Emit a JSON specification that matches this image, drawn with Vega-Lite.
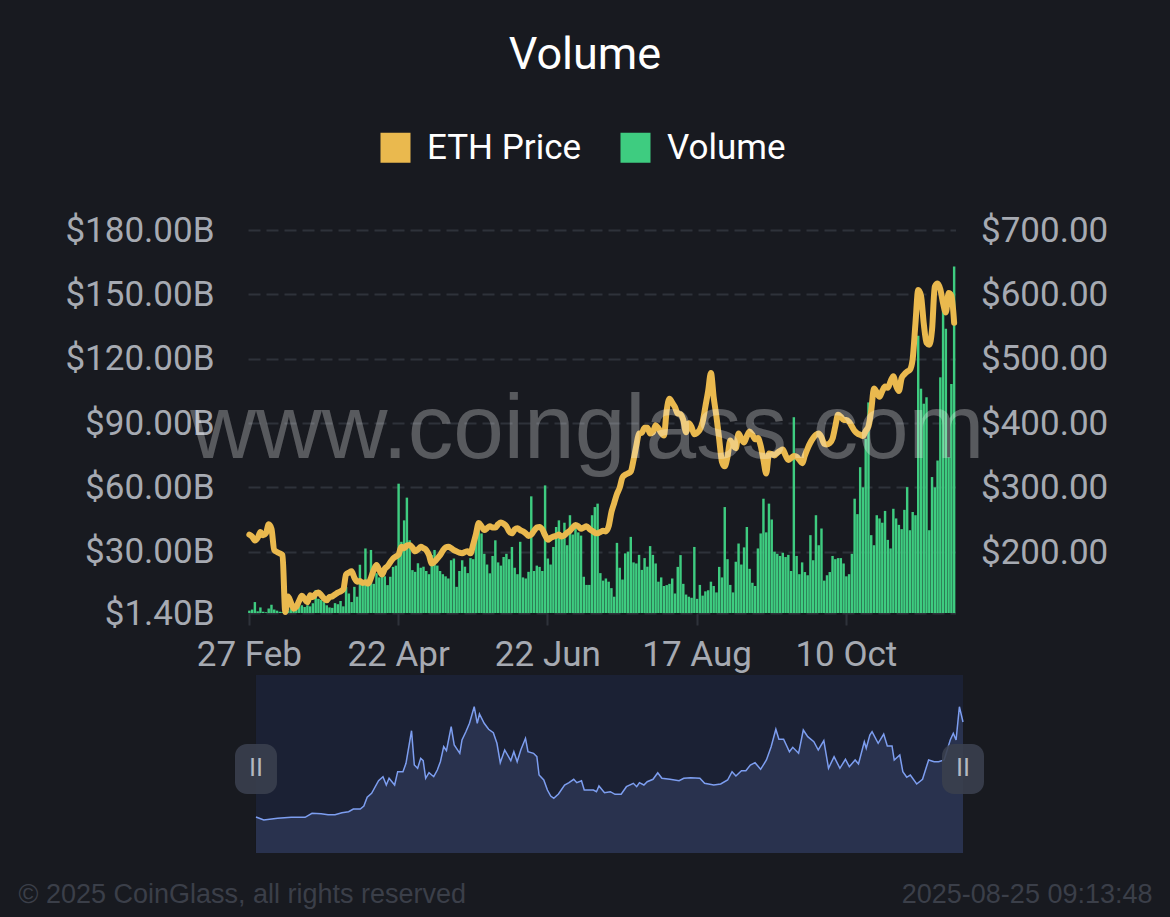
{
"$schema": "https://vega.github.io/schema/vega-lite/v6.json",
"background": "#181a20",
"autosize": {"type": "none"},
"padding": {"left": 248, "top": 230, "right": 922, "bottom": 687},
"title": {"text": "Volume", "font": "Roboto", "fontSize": 45, "fontWeight": "normal", "color": "#ffffff", "anchor": "middle", "offset": 52},
"spacing": 62,
"bounds": "flush",
"config": {"view": {"stroke": null}, "axis": {"labelFont": "Roboto", "labelFontSize": 35, "labelColor": "#a6aab2"}},
"datasets": {
"main": [
{"d":"27 Feb","v":2.5,"p":227},{"d":"28 Feb","v":3.0,"p":224},{"d":"29 Feb","v":6.5,"p":218},{"d":"2 Mar","v":2.2,"p":222},{"d":"3 Mar","v":4.0,"p":231},{"d":"4 Mar","v":2.0,"p":226},{"d":"5 Mar","v":1.8,"p":229},{"d":"6 Mar","v":3.5,"p":243},{"d":"7 Mar","v":5.2,"p":236},{"d":"8 Mar","v":3.0,"p":203},
{"d":"9 Mar","v":2.5,"p":200},{"d":"10 Mar","v":2.0,"p":198},{"d":"11 Mar","v":1.9,"p":195},{"d":"12 Mar","v":1.6,"p":107},{"d":"13 Mar","v":2.5,"p":131},{"d":"14 Mar","v":3.5,"p":122},{"d":"15 Mar","v":2.8,"p":112},{"d":"16 Mar","v":3.0,"p":115},{"d":"17 Mar","v":4.5,"p":124},{"d":"18 Mar","v":5.0,"p":132},
{"d":"19 Mar","v":4.2,"p":127},{"d":"20 Mar","v":5.0,"p":122},{"d":"21 Mar","v":4.5,"p":133},{"d":"22 Mar","v":6.0,"p":130},{"d":"23 Mar","v":12.1,"p":135},{"d":"24 Mar","v":8.0,"p":137},{"d":"25 Mar","v":7.5,"p":133},{"d":"26 Mar","v":6.5,"p":128},{"d":"27 Mar","v":5.0,"p":125},{"d":"28 Mar","v":4.0,"p":130},
{"d":"29 Mar","v":3.8,"p":131},{"d":"30 Mar","v":6.0,"p":134},{"d":"31 Mar","v":5.5,"p":137},{"d":"1 Apr","v":7.0,"p":139},{"d":"2 Apr","v":4.5,"p":142},{"d":"3 Apr","v":13.6,"p":165},{"d":"4 Apr","v":10.5,"p":168},{"d":"5 Apr","v":6.5,"p":170},{"d":"6 Apr","v":13.6,"p":160},{"d":"7 Apr","v":9.0,"p":154},
{"d":"8 Apr","v":23.9,"p":155},{"d":"9 Apr","v":14.5,"p":152},{"d":"10 Apr","v":31.5,"p":153},{"d":"11 Apr","v":14.0,"p":151},{"d":"12 Apr","v":30.8,"p":160},{"d":"13 Apr","v":15.0,"p":172},{"d":"14 Apr","v":19.9,"p":180},{"d":"15 Apr","v":18.0,"p":172},{"d":"16 Apr","v":20.6,"p":165},{"d":"17 Apr","v":18.5,"p":174},
{"d":"18 Apr","v":14.4,"p":178},{"d":"19 Apr","v":18.3,"p":184},{"d":"20 Apr","v":22.9,"p":190},{"d":"21 Apr","v":23.5,"p":193},{"d":"22 Apr","v":61.7,"p":196},{"d":"23 Apr","v":34.6,"p":208},{"d":"24 Apr","v":44.6,"p":206},{"d":"25 Apr","v":55.2,"p":210},{"d":"26 Apr","v":35.3,"p":211},{"d":"27 Apr","v":21.4,"p":207},
{"d":"28 Apr","v":20.6,"p":201},{"d":"29 Apr","v":24.6,"p":204},{"d":"30 Apr","v":22.5,"p":208},{"d":"1 May","v":23.0,"p":206},{"d":"2 May","v":21.0,"p":203},{"d":"3 May","v":19.5,"p":195},{"d":"4 May","v":28.4,"p":182},{"d":"5 May","v":30.8,"p":185},{"d":"6 May","v":23.5,"p":190},{"d":"7 May","v":21.0,"p":195},
{"d":"8 May","v":19.5,"p":202},{"d":"9 May","v":18.5,"p":207},{"d":"17 May","v":17.5,"p":208},{"d":"18 May","v":26.0,"p":206},{"d":"19 May","v":26.8,"p":203},{"d":"20 May","v":13.6,"p":201},{"d":"21 May","v":21.0,"p":199},{"d":"22 May","v":26.0,"p":198},{"d":"23 May","v":23.0,"p":200},{"d":"24 May","v":20.0,"p":201},
{"d":"25 May","v":27.0,"p":198},{"d":"26 May","v":26.5,"p":212},{"d":"27 May","v":36.9,"p":228},{"d":"28 May","v":41.5,"p":245},{"d":"29 May","v":38.5,"p":240},{"d":"30 May","v":29.0,"p":234},{"d":"31 May","v":24.0,"p":237},{"d":"1 Jun","v":19.9,"p":240},{"d":"2 Jun","v":28.0,"p":238},{"d":"3 Jun","v":35.3,"p":238},
{"d":"4 Jun","v":25.0,"p":243},{"d":"5 Jun","v":23.5,"p":246},{"d":"6 Jun","v":27.5,"p":244},{"d":"7 Jun","v":29.0,"p":240},{"d":"8 Jun","v":26.5,"p":232},{"d":"9 Jun","v":32.2,"p":229},{"d":"10 Jun","v":22.5,"p":235},{"d":"11 Jun","v":19.5,"p":237},{"d":"12 Jun","v":34.6,"p":234},{"d":"13 Jun","v":18.0,"p":232},
{"d":"14 Jun","v":17.5,"p":229},{"d":"15 Jun","v":20.6,"p":225},{"d":"16 Jun","v":55.8,"p":227},{"d":"17 Jun","v":21.0,"p":233},{"d":"18 Jun","v":23.5,"p":238},{"d":"19 Jun","v":22.9,"p":239},{"d":"20 Jun","v":21.0,"p":235},{"d":"21 Jun","v":60.9,"p":226},{"d":"22 Jun","v":26.8,"p":219},{"d":"23 Jun","v":24.0,"p":222},
{"d":"24 Jun","v":32.2,"p":224},{"d":"25 Jun","v":41.5,"p":225},{"d":"26 Jun","v":44.6,"p":227},{"d":"27 Jun","v":37.0,"p":224},{"d":"28 Jun","v":43.5,"p":226},{"d":"29 Jun","v":33.0,"p":230},{"d":"30 Jun","v":47.0,"p":233},{"d":"1 Jul","v":38.0,"p":238},{"d":"2 Jul","v":42.0,"p":242},{"d":"3 Jul","v":39.0,"p":240},
{"d":"4 Jul","v":37.5,"p":236},{"d":"5 Jul","v":18.3,"p":238},{"d":"6 Jul","v":14.5,"p":240},{"d":"7 Jul","v":14.5,"p":236},{"d":"8 Jul","v":47.0,"p":233},{"d":"9 Jul","v":50.8,"p":230},{"d":"10 Jul","v":52.4,"p":229},{"d":"11 Jul","v":20.0,"p":231},{"d":"12 Jul","v":16.5,"p":233},{"d":"13 Jul","v":17.5,"p":232},
{"d":"14 Jul","v":16.0,"p":240},{"d":"17 Jul","v":13.0,"p":262},{"d":"18 Jul","v":9.0,"p":276},{"d":"19 Jul","v":34.1,"p":290},{"d":"20 Jul","v":22.5,"p":300},{"d":"21 Jul","v":17.0,"p":316},{"d":"22 Jul","v":29.2,"p":320},{"d":"23 Jul","v":30.0,"p":322},{"d":"24 Jul","v":36.9,"p":325},{"d":"25 Jul","v":25.0,"p":343},
{"d":"26 Jul","v":24.5,"p":365},{"d":"27 Jul","v":28.5,"p":384},{"d":"28 Jul","v":21.5,"p":385},{"d":"29 Jul","v":27.0,"p":393},{"d":"30 Jul","v":23.0,"p":393},{"d":"31 Jul","v":32.6,"p":384},{"d":"1 Aug","v":28.5,"p":386},{"d":"2 Aug","v":24.5,"p":397},{"d":"3 Aug","v":16.0,"p":392},{"d":"4 Aug","v":18.0,"p":385},
{"d":"5 Aug","v":14.0,"p":381},{"d":"6 Aug","v":14.4,"p":420},{"d":"7 Aug","v":15.0,"p":438},{"d":"8 Aug","v":17.5,"p":432},{"d":"9 Aug","v":10.5,"p":425},{"d":"10 Aug","v":22.9,"p":415},{"d":"11 Aug","v":28.4,"p":414},{"d":"12 Aug","v":15.0,"p":405},{"d":"13 Aug","v":10.0,"p":386},{"d":"14 Aug","v":9.0,"p":400},
{"d":"15 Aug","v":8.5,"p":394},{"d":"16 Aug","v":32.2,"p":383},{"d":"17 Aug","v":8.0,"p":385},{"d":"18 Aug","v":14.5,"p":390},{"d":"19 Aug","v":9.5,"p":402},{"d":"20 Aug","v":11.5,"p":426},{"d":"21 Aug","v":12.0,"p":450},{"d":"22 Aug","v":16.0,"p":478},{"d":"23 Aug","v":14.0,"p":440},{"d":"24 Aug","v":11.0,"p":410},
{"d":"25 Aug","v":22.9,"p":375},{"d":"26 Aug","v":18.0,"p":340},{"d":"27 Aug","v":50.8,"p":333},{"d":"28 Aug","v":26.5,"p":348},{"d":"29 Aug","v":14.5,"p":373},{"d":"30 Aug","v":11.0,"p":366},{"d":"31 Aug","v":25.3,"p":361},{"d":"1 Sep","v":33.8,"p":384},{"d":"2 Sep","v":24.0,"p":376},{"d":"3 Sep","v":32.0,"p":370},
{"d":"4 Sep","v":41.5,"p":380},{"d":"5 Sep","v":22.0,"p":387},{"d":"6 Sep","v":15.5,"p":382},{"d":"7 Sep","v":14.0,"p":375},{"d":"8 Sep","v":31.5,"p":377},{"d":"9 Sep","v":38.5,"p":365},{"d":"10 Sep","v":54.7,"p":343},{"d":"11 Sep","v":39.0,"p":322},{"d":"12 Sep","v":52.4,"p":353},{"d":"13 Sep","v":45.0,"p":352},
{"d":"14 Sep","v":30.0,"p":350},{"d":"15 Sep","v":29.0,"p":354},{"d":"16 Sep","v":28.0,"p":357},{"d":"17 Sep","v":29.5,"p":359},{"d":"18 Sep","v":27.5,"p":350},{"d":"19 Sep","v":28.5,"p":343},{"d":"20 Sep","v":21.0,"p":346},{"d":"21 Sep","v":92.7,"p":349},{"d":"22 Sep","v":28.0,"p":348},{"d":"23 Sep","v":19.5,"p":343},
{"d":"24 Sep","v":25.0,"p":338},{"d":"25 Sep","v":20.5,"p":350},{"d":"26 Sep","v":19.0,"p":361},{"d":"27 Sep","v":37.7,"p":370},{"d":"28 Sep","v":26.0,"p":377},{"d":"29 Sep","v":47.0,"p":382},{"d":"30 Sep","v":33.0,"p":384},{"d":"1 Oct","v":40.8,"p":378},{"d":"2 Oct","v":16.5,"p":368},{"d":"3 Oct","v":19.0,"p":367},
{"d":"4 Oct","v":20.5,"p":369},{"d":"5 Oct","v":28.0,"p":376},{"d":"6 Oct","v":26.5,"p":395},{"d":"7 Oct","v":27.0,"p":413},{"d":"8 Oct","v":27.0,"p":410},{"d":"9 Oct","v":24.5,"p":405},{"d":"10 Oct","v":18.5,"p":405},{"d":"11 Oct","v":19.5,"p":402},{"d":"12 Oct","v":29.0,"p":395},{"d":"13 Oct","v":54.7,"p":388},
{"d":"14 Oct","v":47.5,"p":384},{"d":"15 Oct","v":69.4,"p":382},{"d":"16 Oct","v":60.0,"p":380},{"d":"17 Oct","v":82.6,"p":388},{"d":"18 Oct","v":99.6,"p":395},{"d":"19 Oct","v":37.7,"p":420},{"d":"20 Oct","v":33.0,"p":454},{"d":"21 Oct","v":47.0,"p":448},{"d":"22 Oct","v":45.5,"p":441},{"d":"23 Oct","v":43.5,"p":450},
{"d":"24 Oct","v":49.0,"p":457},{"d":"25 Oct","v":35.5,"p":455},{"d":"26 Oct","v":31.5,"p":465},{"d":"27 Oct","v":50.0,"p":473},{"d":"28 Oct","v":45.5,"p":458},{"d":"29 Oct","v":42.5,"p":450},{"d":"30 Oct","v":40.5,"p":470},{"d":"31 Oct","v":49.5,"p":476},{"d":"1 Nov","v":60.1,"p":480},{"d":"2 Nov","v":40.0,"p":483},
{"d":"3 Nov","v":48.5,"p":500},{"d":"4 Nov","v":47.0,"p":555},{"d":"5 Nov","v":130.7,"p":607},{"d":"6 Nov","v":106.0,"p":598},{"d":"7 Nov","v":99.0,"p":555},{"d":"8 Nov","v":102.0,"p":525},{"d":"9 Nov","v":40.0,"p":522},{"d":"10 Nov","v":64.8,"p":545},{"d":"11 Nov","v":60.0,"p":612},{"d":"12 Nov","v":72.5,"p":617},
{"d":"13 Nov","v":111.3,"p":608},{"d":"14 Nov","v":143.0,"p":586},{"d":"15 Nov","v":134.0,"p":572},{"d":"16 Nov","v":74.0,"p":602},{"d":"17 Nov","v":108.2,"p":598},{"d":"18 Nov","v":163.0,"p":556}
],
"nav": [
{"t":0,"n":36},{"t":2.8,"n":33},{"t":7.8,"n":34.7},{"t":12.7,"n":35.7},{"t":17.7,"n":35.7},{"t":20.2,"n":39.7},{"t":23.5,"n":39.3},{"t":26,"n":38.3},{"t":28.5,"n":38.3},{"t":31,"n":40.3},{"t":33.4,"n":41.3},{"t":35.1,"n":44},{"t":37.6,"n":44},{"t":38.9,"n":47},{"t":40.1,"n":55.7},{"t":41.7,"n":59.7},{"t":44.2,"n":72.3},{"t":45.8,"n":76.3},{"t":47,"n":68},{"t":48,"n":74.7},{"t":50,"n":68},{"t":51.1,"n":81.3},{"t":53,"n":81.3},{"t":54.1,"n":89.7},{"t":56.1,"n":122.3},{"t":57.1,"n":88},{"t":58.3,"n":84.7},{"t":59.4,"n":94.7},{"t":60.3,"n":92.3},{"t":61.2,"n":74.7},{"t":62.4,"n":80.3},{"t":64.1,"n":76.3},{"t":65.4,"n":83},{"t":66.5,"n":91.3},{"t":67.7,"n":106.3},{"t":68.7,"n":102.3},{"t":70.4,"n":126.3},{"t":71.5,"n":108},{"t":73.5,"n":99.7},{"t":74.3,"n":113},{"t":75.7,"n":121.3},{"t":77,"n":129.7},{"t":78.7,"n":146.3},{"t":79.8,"n":129.7},{"t":80.6,"n":139},{"t":82.3,"n":129.7},{"t":83.9,"n":123.7},{"t":85.6,"n":120.3},{"t":86.9,"n":109.7},{"t":88.1,"n":90.3},{"t":89.7,"n":103},{"t":91.9,"n":92.3},{"t":93,"n":101.3},{"t":94.2,"n":91.3},{"t":95.5,"n":103},{"t":97.2,"n":114.7},{"t":98.1,"n":101.3},{"t":100.1,"n":99.7},{"t":101.3,"n":96.3},{"t":102.1,"n":78},{"t":103.8,"n":73},{"t":105.1,"n":63},{"t":106.3,"n":57},{"t":107.4,"n":54.7},{"t":109.1,"n":59},{"t":111.3,"n":68},{"t":112.9,"n":70.3},{"t":114.6,"n":73.7},{"t":115.7,"n":70.3},{"t":117.4,"n":72.3},{"t":118.4,"n":63},{"t":121.7,"n":63},{"t":122.8,"n":61.3},{"t":123.7,"n":67},{"t":125.7,"n":60.3},{"t":127.8,"n":61.3},{"t":129.5,"n":58.7},{"t":131.7,"n":58.7},{"t":133.6,"n":66.3},{"t":136.1,"n":69.7},{"t":137.3,"n":66.3},{"t":138.3,"n":70.3},{"t":139.9,"n":68},{"t":141.1,"n":71.3},{"t":143.2,"n":73.7},{"t":144.9,"n":80.3},{"t":146.4,"n":74.7},{"t":149.3,"n":73.7},{"t":152.6,"n":72.3},{"t":154.3,"n":74.7},{"t":156.8,"n":75.3},{"t":160.1,"n":74.7},{"t":161.8,"n":69.7},{"t":165.1,"n":68},{"t":167.6,"n":69},{"t":170.1,"n":73},{"t":171.7,"n":81.3},{"t":173.1,"n":77},{"t":175.1,"n":82.3},{"t":176.7,"n":82.3},{"t":178.3,"n":88},{"t":180,"n":90.3},{"t":182,"n":83.7},{"t":184.1,"n":93},{"t":185.8,"n":106.3},{"t":187.5,"n":123.7},{"t":188.6,"n":113.7},{"t":190.3,"n":113.7},{"t":192.4,"n":101.3},{"t":193.6,"n":105.7},{"t":195.7,"n":99.7},{"t":197.4,"n":123},{"t":199,"n":116.3},{"t":201.2,"n":111.3},{"t":202.8,"n":103},{"t":204.8,"n":112.3},{"t":206.5,"n":84.7},{"t":208.5,"n":96.3},{"t":210.6,"n":84.7},{"t":212.6,"n":93.7},{"t":214,"n":86.3},{"t":216.1,"n":93},{"t":217.3,"n":89},{"t":219.4,"n":111.3},{"t":220.1,"n":104.7},{"t":221.4,"n":118},{"t":222.2,"n":121.3},{"t":224.4,"n":109.7},{"t":226.4,"n":119},{"t":227.7,"n":107},{"t":229.4,"n":107},{"t":230.2,"n":93},{"t":232.2,"n":98},{"t":233.3,"n":81.3},{"t":234.7,"n":75.7},{"t":236,"n":78},{"t":238.3,"n":69},{"t":240.4,"n":73.7},{"t":242.6,"n":93},{"t":244.6,"n":91.3},{"t":246.2,"n":91.3},{"t":248.2,"n":93},{"t":250.4,"n":113},{"t":251.5,"n":119.7},{"t":252.5,"n":113},{"t":253.7,"n":146.3},{"t":255,"n":131}
]
},
"vconcat": [
{
"width": 707.5,
"height": 383,
"data": {"name": "main"},
"layer": [
{
"mark": {"type": "bar"},
"encoding": {
"x": {"field": "d", "type": "ordinal", "sort": null, "scale": {"paddingInner": 0.12, "paddingOuter": 0.05},
 "axis": {"values": ["27 Feb", "22 Apr", "22 Jun", "17 Aug", "10 Oct"], "labelAngle": 0, "title": null, "domain": false, "tickSize": 12, "tickColor": "#2e323a", "tickWidth": 2, "labelPadding": 12, "grid": false}},
"y": {"field": "v", "type": "quantitative", "scale": {"domain": [1.4, 180], "nice": false, "zero": false},
 "axis": {"values": [1.4, 30, 60, 90, 120, 150, 180], "labelExpr": "'$' + format(datum.value, ',.2f') + 'B'", "title": null, "ticks": false, "domain": false, "labelPadding": 34, "grid": true, "gridColor": "#2e323a", "gridDash": [12, 6], "gridWidth": 2}},
"y2": {"datum": 1.4},
"color": {"datum": "Volume", "type": "nominal", "scale": {"domain": ["ETH Price", "Volume"], "range": ["#eab94e", "#3ecc80"]},
 "legend": {"title": null, "orient": "none", "legendX": 130, "legendY": -100, "direction": "horizontal", "symbolType": "square", "symbolSize": 900, "labelFontSize": 35, "labelFont": "Roboto", "labelColor": "#ffffff", "labelOffset": 14, "columnPadding": 36, "padding": 0, "symbolStrokeWidth": 0,
  "encode": {"symbols": {"update": {"fill": {"scale": "color", "field": "value"}, "stroke": {"scale": "color", "field": "value"}, "strokeWidth": {"value": 0}, "opacity": {"value": 1}}}}}}
}
},
{
"mark": {"type": "line", "strokeWidth": 6, "interpolate": "monotone", "strokeCap": "round", "strokeJoin": "round"},
"encoding": {
"x": {"field": "d", "type": "ordinal", "sort": null},
"y": {"field": "p", "type": "quantitative", "scale": {"domain": [105.3, 700], "nice": false, "zero": false},
 "axis": {"orient": "right", "values": [200, 300, 400, 500, 600, 700], "labelExpr": "'$' + format(datum.value, ',.2f')", "title": null, "ticks": false, "domain": false, "labelPadding": 25, "grid": false}},
"color": {"datum": "ETH Price", "type": "nominal"}
}
},
{
"data": {"values": [{}]},
"mark": {"type": "text", "text": "www.coinglass.com", "font": "Liberation Sans", "fontSize": 91, "fill": "#ffffff", "opacity": 0.28, "align": "center", "baseline": "alphabetic", "dx": -2},
"encoding": {
"x": {"datum": "7 Jul", "type": "ordinal"},
"y": {"datum": 73.9, "type": "quantitative", "scale": {"domain": [1.4, 180], "nice": false, "zero": false}, "axis": null}
}
}
],
"resolve": {"scale": {"y": "independent"}}
},
{
"width": 715,
"height": 178,
"layer": [
{
"data": {"values": [{}]},
"mark": {"type": "rect", "color": "#1b2134"},
"encoding": {
"x": {"datum": 0, "type": "quantitative", "scale": {"domain": [-2.885, 255], "nice": false, "zero": false}},
"x2": {"datum": 255},
"y": {"datum": 0, "type": "quantitative", "scale": {"domain": [0, 178], "nice": false, "zero": false}},
"y2": {"datum": 178}
}
},
{
"data": {"name": "nav"},
"mark": {"type": "area", "color": "#2f3b5a", "interpolate": "linear", "line": {"color": "#7d9ef0", "strokeWidth": 1.5}},
"encoding": {
"x": {"field": "t", "type": "quantitative",
 "axis": {"labels": false, "ticks": false, "domain": false, "grid": false, "title": "2025-08-25 09:13:48", "titleFont": "Liberation Sans", "titleFontSize": 27, "titleFontWeight": "normal", "titleColor": "#3b3f49", "titleAlign": "right", "titleAnchor": "end", "titleX": 904, "titleY": 49, "titleBaseline": "alphabetic"}},
"y": {"field": "n", "type": "quantitative",
 "axis": {"labels": false, "ticks": false, "domain": false, "grid": false, "title": "© 2025 CoinGlass, all rights reserved", "titleFont": "Liberation Sans", "titleFontSize": 27, "titleFontWeight": "normal", "titleColor": "#3b3f49", "titleAngle": 0, "titleAlign": "left", "titleAnchor": "start", "titleX": -230, "titleY": 227, "titleBaseline": "alphabetic"}}
}
},
{
"data": {"values": [{}]},
"layer": [
{"mark": {"type": "rect", "width": 42, "height": 50, "cornerRadius": 12, "color": "#3a3f4e", "opacity": 0.9},
 "encoding": {"x": {"datum": 0, "type": "quantitative"}, "y": {"datum": 84, "type": "quantitative"}}},
{"mark": {"type": "rect", "width": 42, "height": 50, "cornerRadius": 12, "color": "#3a3f4e", "opacity": 0.9},
 "encoding": {"x": {"datum": 255, "type": "quantitative"}, "y": {"datum": 84, "type": "quantitative"}}},
{"mark": {"type": "text", "text": "II", "font": "DejaVu Sans", "fontSize": 24, "color": "#b4b8c2", "align": "center", "baseline": "middle"},
 "encoding": {"x": {"datum": 0, "type": "quantitative"}, "y": {"datum": 84, "type": "quantitative"}}},
{"mark": {"type": "text", "text": "II", "font": "DejaVu Sans", "fontSize": 24, "color": "#b4b8c2", "align": "center", "baseline": "middle"},
 "encoding": {"x": {"datum": 255, "type": "quantitative"}, "y": {"datum": 84, "type": "quantitative"}}}
]
}
]
}
]
}
